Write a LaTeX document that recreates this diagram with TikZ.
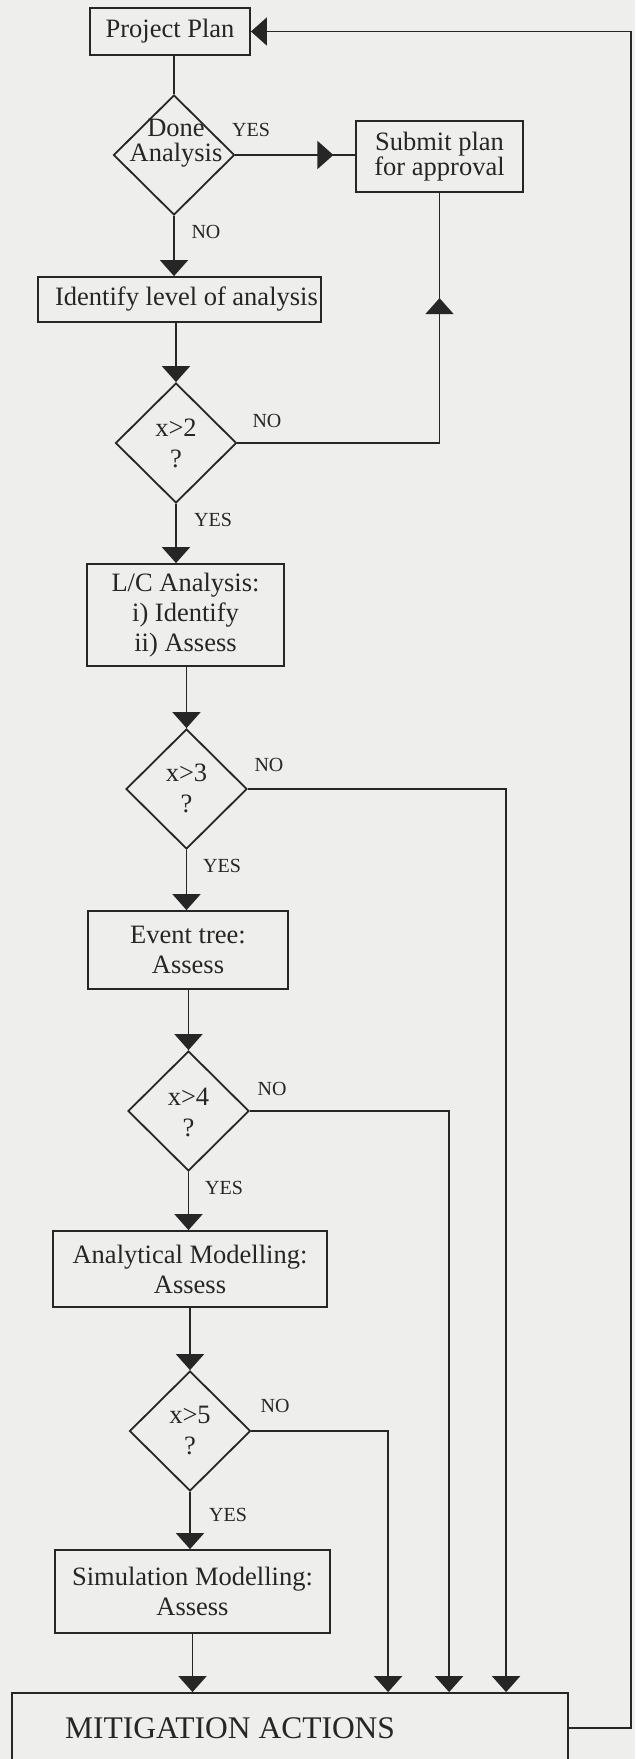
\documentclass[tikz,border=0pt]{standalone}
\usepackage{fontspec}
\setmainfont{Liberation Serif}
\usetikzlibrary{arrows.meta,shapes.geometric,decorations.markings}
\definecolor{paper}{RGB}{238,238,236}
\definecolor{ink}{RGB}{38,38,38}
\newcommand\mainf{\fontsize{26.5}{30}\selectfont}
\newcommand\tightf{\fontsize{26.5}{24.5}\selectfont}
\newcommand\lblf{\fontsize{20}{22}\selectfont}
\newcommand\bigf{\fontsize{31.5}{34}\selectfont}
\begin{document}
\begin{tikzpicture}[x=1pt,y=-1pt,
  boxnode/.style={draw=ink, line width=1.8pt, text=ink, font=\mainf, align=center, inner sep=0pt, rectangle},
  decnode/.style={draw=ink, line width=1.8pt, shape=diamond, inner sep=0pt, minimum width=121pt, minimum height=120pt},
  dectext/.style={text=ink, font=\mainf, align=center, inner sep=0pt},
  lbl/.style={text=ink, font=\lblf, inner sep=0pt},
  conn/.style={draw=ink, line width=1.8pt},
  arr/.style={conn, -{Triangle[width=28pt,length=16pt]}},
  midarr/.style={conn, postaction={decorate}, decoration={markings, mark=at position #1 with {\arrow{Triangle[width=28pt,length=16pt]}}}}
]
\useasboundingbox[fill=paper] (0,0) rectangle (635,1759);

% boxes
\node[boxnode, minimum width=160pt, minimum height=47pt] (pp) at (170,31.5) {Project Plan};
\node[boxnode, minimum width=167pt, minimum height=71pt, font=\tightf] (submit) at (439.5,156.5) {Submit plan\\for approval};
\node[boxnode, minimum width=283pt, minimum height=45pt] (ident) at (179.5,299.5) {\hspace*{14pt}Identify level of analysis};
\node[boxnode, minimum width=197pt, minimum height=102pt] (lc) at (185.5,615) {L/C Analysis:\\i) Identify\\ii) Assess};
\node[boxnode, minimum width=200pt, minimum height=78pt] (event) at (188,950) {Event tree:\\Assess};
\node[boxnode, minimum width=274pt, minimum height=76pt] (anal) at (190,1269) {Analytical Modelling:\\Assess};
\node[boxnode, minimum width=275pt, minimum height=83pt] (sim) at (192.5,1591.5) {Simulation Modelling:\\Assess};
\node[boxnode, minimum width=556pt, minimum height=110pt] (mit) at (290,1748) {};
\node[text=ink, font=\bigf, inner sep=0pt, anchor=west] (mittext) at (65,1728) {MITIGATION ACTIONS};

% decisions
\node[decnode] (done) at (174,155) {};
\node[dectext, font=\tightf] (donet) at (176,143) {Done\\Analysis};
\node[decnode] (x2) at (176,443) {};
\node[dectext, font=\fontsize{26.5}{31}\selectfont] (x2t) at (176,443) {x>2\\?};
\node[decnode] (x3) at (186.5,789) {};
\node[dectext, font=\fontsize{26.5}{31}\selectfont] (x3t) at (186.5,788) {x>3\\?};
\node[decnode] (x4) at (188.5,1111) {};
\node[dectext, font=\fontsize{26.5}{31}\selectfont] (x4t) at (188.5,1112) {x>4\\?};
\node[decnode] (x5) at (190,1431) {};
\node[dectext, font=\fontsize{26.5}{31}\selectfont] (x5t) at (190,1430) {x>5\\?};

% labels
\node[lbl] (ly1) at (251,130) {YES};
\node[lbl] (ln1) at (206,232) {NO};
\node[lbl] (ln2) at (267,421) {NO};
\node[lbl] (ly2) at (213,520) {YES};
\node[lbl] (ln3) at (269,765) {NO};
\node[lbl] (ly3) at (222,866) {YES};
\node[lbl] (ln4) at (272,1089) {NO};
\node[lbl] (ly4) at (224,1188) {YES};
\node[lbl] (ln5) at (275,1406) {NO};
\node[lbl] (ly5) at (228,1515) {YES};

% main flow
\draw[conn] (pp.south -| done.north) -- (done.north);
\draw[midarr=98pt] (done.east) -- (done.east -| submit.west);
\draw[arr] (done.south) -- (done.south |- ident.north);
\draw[arr] (ident.south -| x2.north) -- (x2.north);
\draw[midarr=347pt] (x2.east) -| (submit.south);
\draw[arr] (x2.south) -- (x2.south |- lc.north);
\draw[arr] (lc.south -| x3.north) -- (x3.north);
\draw[arr] (x3.south) -- (x3.south |- event.north);
\draw[arr] (event.south -| x4.north) -- (x4.north);
\draw[arr] (x4.south) -- (x4.south |- anal.north);
\draw[arr] (anal.south -| x5.north) -- (x5.north);
\draw[arr] (x5.south) -- (x5.south |- sim.north);
\draw[arr] (sim.south) -- (sim.south |- mit.north);

% NO branches to mitigation
\draw[arr] (x3.east) -| ([xshift=495pt]mit.north west);
\draw[arr] (x4.east) -| ([xshift=438pt]mit.north west);
\draw[arr] (x5.east) -| ([xshift=377pt]mit.north west);

% feedback loop
\coordinate (mr) at (631,1728);
\draw[arr] (mit.east |- mr) -- (mr) |- (pp.east);
\end{tikzpicture}
\end{document}
